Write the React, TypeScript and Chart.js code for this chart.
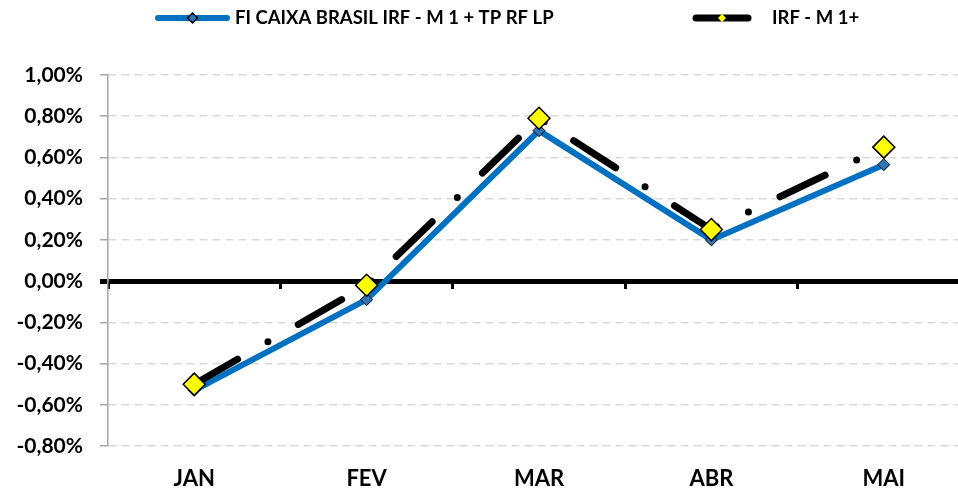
import React, { useEffect, useRef } from "react";
import { Chart, registerables } from "chart.js";

Chart.register(...registerables);

const categories = ["JAN", "FEV", "MAR", "ABR", "MAI"];
const fundValues = [-0.53, -0.09, 0.73, 0.2, 0.565];
const indexValues = [-0.5, -0.02, 0.79, 0.25, 0.65];
const seriesNames = ["FI CAIXA BRASIL IRF - M 1 + TP RF LP", "IRF - M 1+"];
const yMin = -0.8;
const yMax = 1.0;
const yStep = 0.2;

const FONT = "Lato, 'Open Sans', sans-serif";
const BLUE = "#0070C0";
const BLUE_MARK = "#2E75B6";
const YELLOW = "#FFFF00";

const isZero = (v: number) => Math.abs(v) < 1e-9;
const fmt = (v: number) => {
  const r = isZero(v) ? 0 : v;
  return r.toFixed(2).replace(".", ",") + "%";
};

const drawDiamond = (ctx: CanvasRenderingContext2D, x: number, y: number, r: number, fill: string, stroke: string, lw: number) => {
  ctx.beginPath();
  ctx.moveTo(x, y - r);
  ctx.lineTo(x + r, y);
  ctx.lineTo(x, y + r);
  ctx.lineTo(x - r, y);
  ctx.closePath();
  ctx.fillStyle = fill;
  ctx.fill();
  if (lw > 0) {
    ctx.lineWidth = lw;
    ctx.strokeStyle = stroke;
    ctx.stroke();
  }
};

const legendPlugin = {
  id: "customLegend",
  afterDraw(chart: any) {
    const ctx: CanvasRenderingContext2D = chart.ctx;
    const y = 18;
    const items = [
      { x1: 158, x2: 227, tx: 235, color: BLUE, lw: 6, mFill: BLUE_MARK, mStroke: "#000", mR: 5, mLw: 1.5 },
      { x1: 696, x2: 748, tx: 772, color: "#000", lw: 7, mFill: YELLOW, mStroke: "#000", mR: 4, mLw: 0 },
    ];
    ctx.save();
    items.forEach((it, i) => {
      ctx.beginPath();
      ctx.lineCap = "round";
      ctx.lineWidth = it.lw;
      ctx.strokeStyle = it.color;
      ctx.moveTo(it.x1, y);
      ctx.lineTo(it.x2, y);
      ctx.stroke();
      drawDiamond(ctx, (it.x1 + it.x2) / 2, y, it.mR, it.mFill, it.mStroke, it.mLw);
      ctx.fillStyle = "#000";
      ctx.font = `bold 18.5px ${FONT}`;
      ctx.textBaseline = "middle";
      ctx.textAlign = "left";
      ctx.fillText(seriesNames[i], it.tx, y);
    });
    ctx.restore();
  },
};

export default function App() {
  const ref = useRef<HTMLCanvasElement | null>(null);
  useEffect(() => {
    if (!ref.current) return;
    const chart = new Chart(ref.current, {
      type: "line",
      data: {
        labels: categories,
        datasets: [
          {
            label: seriesNames[0],
            data: fundValues,
            xAxisID: "x",
            borderColor: BLUE,
            borderWidth: 6,
            backgroundColor: BLUE_MARK,
            pointStyle: "rectRot",
            pointRadius: 6,
            pointBackgroundColor: BLUE_MARK,
            pointBorderColor: "#000",
            pointBorderWidth: 1,
            tension: 0,
            order: 1,
            clip: false,
          },
          {
            label: seriesNames[1],
            data: indexValues,
            xAxisID: "x",
            borderColor: "#000",
            borderWidth: 7,
            borderDash: [50, 35, 0, 35],
            borderCapStyle: "round",
            backgroundColor: YELLOW,
            pointStyle: "rectRot",
            pointRadius: 11,
            pointBackgroundColor: YELLOW,
            pointBorderColor: "#000",
            pointBorderWidth: 1.5,
            tension: 0,
            order: 0,
            clip: false,
          },
        ],
      },
      options: {
        animation: false,
        responsive: false,
        maintainAspectRatio: false,
        devicePixelRatio: 1,
        layout: { autoPadding: false, padding: { left: 0, right: 0, top: 75, bottom: 0 } },
        plugins: { legend: { display: false }, tooltip: { enabled: false } },
        scales: {
          x: {
            type: "category",
            offset: true,
            grid: { display: false, drawTicks: false },
            border: { display: false },
            ticks: { color: "#000", font: { family: FONT, weight: "bold", size: 22 }, padding: 20 },
            afterFit: (s: any) => {
              s.height = 46;
              s.paddingLeft = 0;
              s.paddingRight = 0;
            },
          },
          x2: {
            type: "category",
            axis: "x",
            position: { y: 0 },
            offset: true,
            labels: categories,
            grid: { offset: true, drawOnChartArea: false, drawTicks: true, tickLength: 8, tickWidth: 3, tickColor: "#000" },
            border: { display: false },
            ticks: { display: false },
            afterFit: (s: any) => {
              s.paddingLeft = 0;
              s.paddingRight = 0;
            },
          },
          y: {
            type: "linear",
            min: yMin,
            max: yMax,
            ticks: {
              stepSize: yStep,
              color: "#000",
              padding: 17,
              font: { family: FONT, weight: "bold", size: 21 },
              callback: (v: any) => fmt(Number(v)),
            },
            grid: {
              color: (c: any) => (c.tick && isZero(c.tick.value) ? "#000" : "#D9D9D9"),
              lineWidth: (c: any) => (c.tick && isZero(c.tick.value) ? 5 : 1.5),
              tickLength: 8,
              tickColor: (c: any) => (c.tick && isZero(c.tick.value) ? "#000" : "#A6A6A6"),
              tickWidth: (c: any) => (c.tick && isZero(c.tick.value) ? 5 : 1.5),
            },
            border: {
              display: true,
              color: "#A6A6A6",
              width: 1.5,
              dash: (c: any) => (c.tick && !isZero(c.tick.value) ? [8, 5] : []),
            },
            afterFit: (s: any) => {
              s.width = 108;
            },
          },
        },
      },
      plugins: [legendPlugin],
    } as any);
    return () => chart.destroy();
  }, []);
  return (
    <div style={{ position: "fixed", left: 0, top: 0, width: 958, height: 492, overflow: "hidden", background: "#fff" }}>
      <canvas ref={ref} width={970} height={492} style={{ display: "block", width: 970, height: 492 }} />
    </div>
  );
}
